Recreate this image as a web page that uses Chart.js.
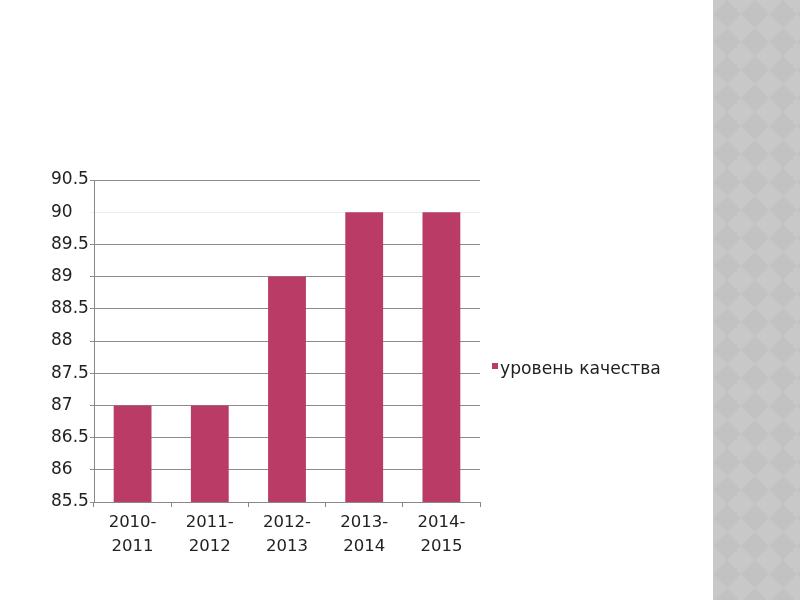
<!DOCTYPE html>
<html>
<head>
<meta charset="utf-8">
<script src="https://cdn.jsdelivr.net/npm/chart.js@4/dist/chart.umd.min.js"></script>
<style>
  html, body { margin: 0; padding: 0; background: #fff; }
  #wrap { position: absolute; left: 0; top: 0; width: 712px; height: 600px; }
  #strip {
    position: absolute; left: 713px; top: 0; width: 87px; height: 600px;
    background-color: #c8c8c8;
    background-image: url("data:image/svg+xml;utf8,<svg xmlns='http://www.w3.org/2000/svg' width='28' height='28'><polygon points='14,0 28,14 14,28 0,14' fill='%23c2c2c2'/></svg>");
  }
</style>
</head>
<body>
<div id="wrap"><canvas id="chart"></canvas></div>
<div id="strip"></div>
<script>
// =========================================================================
// Data
// =========================================================================
const categories = [
  ["2010-", "2011"],
  ["2011-", "2012"],
  ["2012-", "2013"],
  ["2013-", "2014"],
  ["2014-", "2015"],
];
const seriesName = "уровень качества";
const qualityValues = [87, 87, 89, 90, 90];
const yMin = 85.5;
const yMax = 90.5;
const yStep = 0.5;

const barColor = "#b93b66";
const textFont = "'DejaVu Sans', Verdana, sans-serif";

// =========================================================================
// Legend drawn next to the plot area
// =========================================================================
const sideLegend = {
  id: "sideLegend",
  afterDraw(chart) {
    const { ctx, chartArea } = chart;
    const x = chartArea.right + 12;
    const y = (chartArea.top + chartArea.bottom) / 2 + 28;
    ctx.save();
    ctx.fillStyle = barColor;
    ctx.fillRect(x, y - 6, 6, 6);
    ctx.fillStyle = "#222";
    ctx.font = "17.2px " + textFont;
    ctx.textBaseline = "middle";
    ctx.fillText(chart.data.datasets[0].label, x + 8, y + 1);
    ctx.restore();
  },
};

// =========================================================================
// Chart
// =========================================================================
new Chart(document.getElementById("chart"), {
  type: "bar",
  data: {
    labels: categories,
    datasets: [
      {
        label: seriesName,
        data: qualityValues,
        backgroundColor: barColor,
        categoryPercentage: 1,
        barPercentage: 0.49,
      },
    ],
  },
  options: {
    responsive: true,
    maintainAspectRatio: false,
    animation: false,
    layout: { padding: { top: 180, right: 232, bottom: 0, left: 51 } },
    plugins: { legend: { display: false }, tooltip: { enabled: false } },
    scales: {
      x: {
        offset: true,
        afterFit: (s) => { s.height = 98; },
        grid: {
          offset: true,
          drawOnChartArea: false,
          drawTicks: true,
          tickLength: 5,
          color: "#888",
        },
        border: { color: "#888", width: 1 },
        ticks: {
          color: "#222",
          padding: 4,
          maxRotation: 0,
          font: { family: textFont, size: 16.5, lineHeight: 1.45 },
        },
      },
      y: {
        min: yMin,
        max: yMax,
        afterFit: (s) => { s.width = 43; },
        grid: {
          color: (c) => (c.tick && c.tick.value === 90 ? "#ececec" : "#8c8c8c"),
          tickLength: 4,
        },
        border: { color: "#888", width: 1 },
        ticks: {
          stepSize: yStep,
          color: "#222",
          padding: 1,
          crossAlign: "far",
          font: { family: textFont, size: 17 },
          callback: (v) => String(v),
        },
      },
    },
  },
  plugins: [sideLegend],
});
</script>
</body>
</html>
